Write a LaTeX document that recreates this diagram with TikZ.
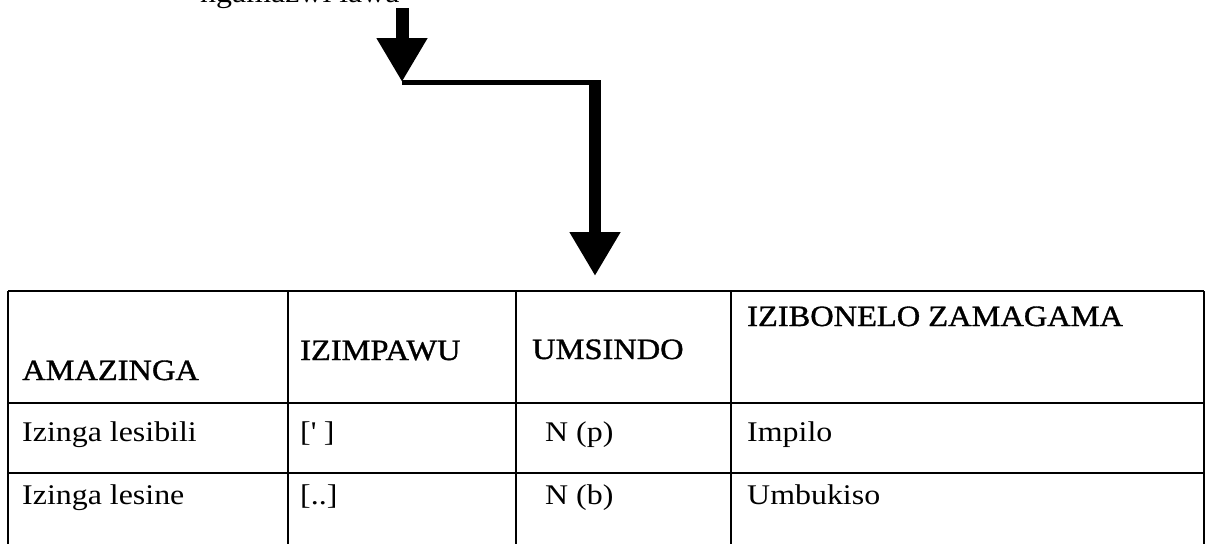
\documentclass[tikz,border=0pt]{standalone}
\usepackage{fontspec}
\setmainfont{Liberation Serif}[FakeStretch=1.12]
\newfontfamily\hdrfont{Liberation Serif}[FakeStretch=1.1,FakeBold=1.2]
\usetikzlibrary{arrows.meta}
\begin{document}
\begin{tikzpicture}[x=1pt,y=-1pt,
  hdr/.style={anchor=base west,inner sep=0pt,font=\hdrfont\fontsize{29.5}{33}\selectfont},
  cell/.style={anchor=base west,inner sep=0pt,font=\fontsize{28.5}{33}\selectfont},
  hrule/.style={line width=1.8pt},
  vrule/.style={line width=1.5pt},
  shaft/.style={line width=13pt},
  conn/.style={line width=5pt},
  headtip/.style={-{Triangle[width=48pt,length=44pt]}}]
\useasboundingbox (0,0) rectangle (1206,544);
\begin{scope}
\clip (0,0) rectangle (1206,544);
% cut-off text at the top
\node[cell] (frag) at (200,2.5) {ngamazwi lawa};
% arrows
\coordinate (src) at (402,8);
\coordinate (tipA) at (402,82);
\coordinate (cornerL) at (402,82.5);
\coordinate (cornerR) at (601,82.5);
\coordinate (down) at (595,80);
\coordinate (tipB) at (595,276);
\draw[shaft,headtip] (src) -- (tipA);
\draw[conn] (cornerL) -- (cornerR);
\draw[shaft,line width=12pt,headtip] (down) -- (tipB);
% table lines
\foreach \yy in {291,403,473} \draw[hrule] (8,\yy) -- (1204,\yy);
\foreach \xx in {8,288,516,731,1204} \draw[vrule] (\xx,291) -- (\xx,544);
% header
\node[hdr] (h1) at (22,380) {AMAZINGA};
\node[hdr] (h2) at (300,360) {IZIMPAWU};
\node[hdr] (h3) at (532,359) {UMSINDO};
\node[hdr] (h4) at (747,326) {IZIBONELO ZAMAGAMA};
% row 1
\node[cell] (a1) at (22,441) {Izinga lesibili};
\node[cell] (b1) at (300,441) {[\textquotesingle\ ]};
\node[cell] (c1) at (545,441) {N (p)};
\node[cell] (d1) at (747,441) {Impilo};
% row 2
\node[cell] (a2) at (22,504) {Izinga lesine};
\node[cell] (b2) at (300,504) {[..]};
\node[cell] (c2) at (545,504) {N (b)};
\node[cell] (d2) at (747,504) {Umbukiso};
\end{scope}
\end{tikzpicture}
\end{document}
